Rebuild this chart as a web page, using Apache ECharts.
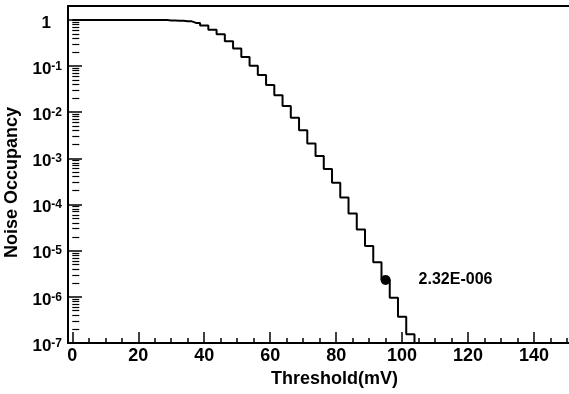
<!DOCTYPE html>
<html><head><meta charset="utf-8">
<script src="https://cdn.jsdelivr.net/npm/echarts@6/dist/echarts.min.js"></script>
<style>html,body{margin:0;padding:0;background:#fff}#c{width:569px;height:394px}</style>
</head><body><div id="c"></div>
<script>
// Bin centres (mV) and noise occupancy
const thresholds = [0,2.5,5,7.5,10,12.5,15,17.5,20,22.5,25,27.5,30,32.5,35,37.5,40,42.5,45,47.5,50,52.5,55,57.5,60,62.5,65,67.5,70,72.5,75,77.5,80,82.5,85,87.5,90,92.5,95,97.5,100,102.5,105];
const occupancy = [1,1,1,1,1,1,1,1,1,1,0.995,0.99,0.975,0.96,0.93,0.86,0.76,0.61,0.49,0.346,0.241,0.157,0.101,0.0638,0.0388,0.0232,0.0137,0.00763,0.00405,0.00209,0.00112,5.9e-4,2.96e-4,1.42e-4,6.37e-5,2.87e-5,1.27e-5,5.6e-6,2.32e-6,9.5e-7,3.7e-7,1.55e-7,1e-10];
const markerX = [95];
const markerY = [2.32e-6];
const markerLabel = ['2.32E-006'];
const xMajorTicks = [0,20,40,60,80,100,120,140];
const xMinorTicks = [5,10,15,25,30,35,45,50,55,65,70,75,85,90,95,105,110,115,125,130,135,145,150];
const yMajorTicks = [1e-7,1e-6,1e-5,1e-4,1e-3,1e-2,1e-1,1];
const yMinorMantissas = [2,3,4,5,6,7,8,9];

const yMinorTicks = [];
yMajorTicks.slice(0, -1).forEach(d => yMinorMantissas.forEach(m => yMinorTicks.push(m * d)));

const FF = '"Liberation Sans", Arial, Helvetica, sans-serif';
const black = '#000';
const chart = echarts.init(document.getElementById('c'), null, {renderer: 'canvas'});
chart.setOption({
  animation: false,
  backgroundColor: '#fff',
  textStyle: {fontFamily: FF},
  grid: {left: 68, right: 0, top: 6, bottom: 51, containLabel: false, outerBoundsMode: 'none'},
  xAxis: [
    {
      type: 'value', min: -1.3, max: 150.6, position: 'bottom',
      axisLine: {show: true, onZero: false, lineStyle: {color: black, width: 2}},
      axisTick: {show: true, inside: true, length: 11, customValues: xMajorTicks, lineStyle: {color: black, width: 1.5}},
      axisLabel: {show: true, customValues: xMajorTicks, margin: 4, color: black, fontSize: 18, fontWeight: 'bold', fontFamily: FF},
      splitLine: {show: false},
      name: 'Threshold(mV)', nameLocation: 'middle', nameGap: 25,
      nameTextStyle: {color: black, fontSize: 18, fontWeight: 'bold', fontFamily: FF, padding: [0, 0, 0, 32]}
    },
    {
      type: 'value', min: -1.3, max: 150.6, position: 'bottom',
      axisLine: {show: false},
      axisTick: {show: true, inside: true, length: 5, customValues: xMinorTicks, lineStyle: {color: black, width: 1.5}},
      axisLabel: {show: false}, splitLine: {show: false}
    },
    {
      type: 'value', min: -1.3, max: 150.6, position: 'top',
      axisLine: {show: true, onZero: false, lineStyle: {color: black, width: 2}},
      axisTick: {show: false}, axisLabel: {show: false}, splitLine: {show: false}
    }
  ],
  yAxis: [
    {
      type: 'log', logBase: 10, min: 1e-7, max: 2, position: 'left',
      axisLine: {show: true, onZero: false, lineStyle: {color: black, width: 2}},
      axisTick: {show: true, inside: true, length: 14, customValues: yMajorTicks, lineStyle: {color: black, width: 1.5}},
      axisLabel: {
        show: true, customValues: yMajorTicks, margin: 6, padding: [6, 0, 0, 0],
        formatter: v => {
          const e = Math.round(Math.log10(v));
          return e === 0 ? '{b|1}{sp| }' : '{b|10}{s|' + e + '}';
        },
        rich: {
          b: {fontSize: 17, fontWeight: 'bold', color: black, fontFamily: FF},
          s: {fontSize: 12, fontWeight: 'bold', color: black, fontFamily: FF, verticalAlign: 'top'},
          sp: {width: 11, fontSize: 12}
        }
      },
      splitLine: {show: false},
      name: 'Noise Occupancy', nameLocation: 'middle', nameGap: 43,
      nameTextStyle: {color: black, fontSize: 18, fontWeight: 'bold', fontFamily: FF, padding: [0, 16, 0, 0]}
    },
    {
      type: 'log', logBase: 10, min: 1e-7, max: 2, position: 'left',
      axisLine: {show: false},
      axisTick: {show: true, inside: true, length: 7, customValues: yMinorTicks, lineStyle: {color: black, width: 1.2}},
      axisLabel: {show: false}, splitLine: {show: false}
    }
  ],
  series: [
    {
      type: 'line', step: 'middle', xAxisIndex: 0, yAxisIndex: 0,
      data: thresholds.map((x, i) => [x, occupancy[i]]),
      showSymbol: false, clip: true,
      lineStyle: {color: black, width: 2}
    },
    {
      type: 'scatter', xAxisIndex: 0, yAxisIndex: 0,
      data: markerX.map((x, i) => [x, markerY[i]]),
      symbol: 'circle', symbolSize: 10,
      itemStyle: {color: black, opacity: 1},
      label: {
        show: true, position: 'right', distance: 28,
        formatter: p => markerLabel[p.dataIndex],
        color: black, fontSize: 16, fontWeight: 'bold', fontFamily: FF
      }
    }
  ]
});
</script>
</body></html>
